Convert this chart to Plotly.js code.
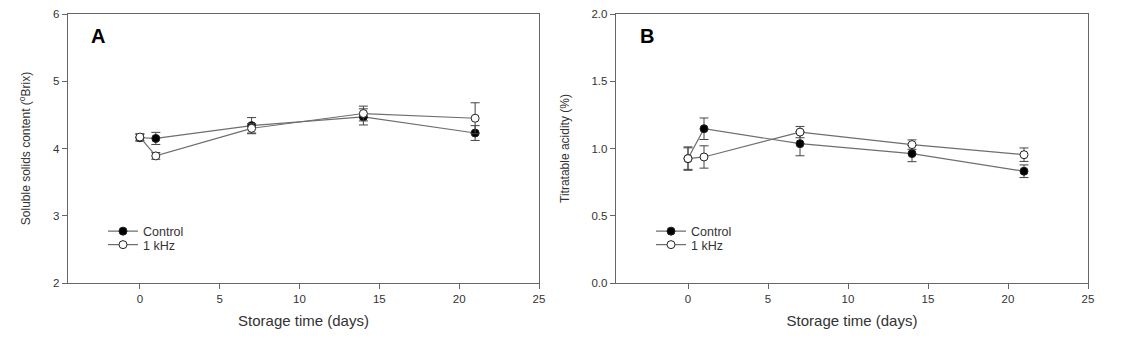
<!DOCTYPE html>
<html>
<head>
<meta charset="utf-8">
<script src="https://cdn.plot.ly/plotly-3.0.1.min.js"></script>
<style>html,body{margin:0;padding:0;background:#fff;}#chart{width:1145px;height:345px;}</style>
</head>
<body>
<div id="chart"></div>
<script>
// Storage days
const days = [0, 1, 7, 14, 21];

// Panel A: soluble solids content (°Brix)
const sscControl = [4.16, 4.15, 4.34, 4.47, 4.23];
const sscControlErr = [0.05, 0.09, 0.12, 0.12, 0.11];
const ssc1kHz = [4.17, 3.89, 4.30, 4.52, 4.45];
const ssc1kHzErr = [0.05, 0.05, 0.07, 0.11, 0.23];

// Panel B: titratable acidity (%)
const taControl = [0.925, 1.147, 1.036, 0.962, 0.831];
const taControlErr = [0.08, 0.08, 0.09, 0.06, 0.047];
const ta1kHz = [0.925, 0.937, 1.122, 1.029, 0.954];
const ta1kHzErr = [0.087, 0.083, 0.042, 0.035, 0.05];

const seriesNames = ["Control", "1 kHz"];
const panelLabels = ["A", "B"];
const yTitles = ["Soluble solids content (<sup>o</sup>Brix)", "Titratable acidity (%)"];
const xTitle = "Storage time (days)";

const lineCol = "#6e6e6e";
const errCol = "#444";
const font = "Liberation Sans, Arial, sans-serif";

function mk(y, err, name, filled, xa, ya, legend) {
  return {
    x: days, y: y, name: name, type: "scatter", mode: "lines+markers",
    xaxis: xa, yaxis: ya, legend: legend, showlegend: true,
    line: {color: lineCol, width: 1.2},
    marker: {size: 8, color: filled ? "#000" : "#fff", line: {color: "#222", width: 1}},
    error_y: {type: "data", array: err, visible: true, color: errCol, thickness: 1, width: 4.5}
  };
}

const data = [
  mk(sscControl, sscControlErr, seriesNames[0], true, "x", "y", "legend"),
  mk(ssc1kHz, ssc1kHzErr, seriesNames[1], false, "x", "y", "legend3"),
  mk(taControl, taControlErr, seriesNames[0], true, "x2", "y2", "legend2"),
  mk(ta1kHz, ta1kHzErr, seriesNames[1], false, "x2", "y2", "legend4")
];

const axCommon = {
  showgrid: false, zeroline: false, showline: true, linecolor: "#666", linewidth: 1.3,
  mirror: true, ticks: "outside", ticklen: 5, tickcolor: "#666", tickwidth: 1,
  tickfont: {family: font, size: 11.5, color: "#333"}
};

const xCommon = Object.assign({}, axCommon, {
  range: [-4.5, 25], tickvals: [0, 5, 10, 15, 20, 25],
  title: {text: xTitle, font: {family: font, size: 15, color: "#333"}, standoff: 11}
});

function leg(x, y) {
  return {x: x, y: y, xanchor: "left", yanchor: "middle", bgcolor: "rgba(0,0,0,0)",
    font: {family: font, size: 12.5, color: "#333"}, tracegroupgap: 0, itemwidth: 30};
}

const layout = {
  width: 1145, height: 345,
  margin: {l: 0, r: 0, t: 14, b: 62},
  paper_bgcolor: "#fff", plot_bgcolor: "#fff",
  xaxis: Object.assign({}, xCommon, {domain: [68/1145, 539/1145], anchor: "y"}),
  xaxis2: Object.assign({}, xCommon, {domain: [616/1145, 1088/1145], anchor: "y2"}),
  yaxis: Object.assign({}, axCommon, {
    range: [2, 6], tickvals: [2, 3, 4, 5, 6], anchor: "x",
    title: {text: yTitles[0], font: {family: font, size: 12, color: "#333"}, standoff: 19}
  }),
  yaxis2: Object.assign({}, axCommon, {
    range: [0, 2], tickvals: [0, 0.5, 1, 1.5, 2], tickformat: ".1f", anchor: "x2",
    title: {text: yTitles[1], font: {family: font, size: 12, color: "#333"}, standoff: 19}
  }),
  legend: leg(103/1145, (283 - 231.5) / 269),
  legend3: leg(103/1145, (283 - 245) / 269),
  legend2: leg(651/1145, (283 - 231.5) / 269),
  legend4: leg(651/1145, (283 - 245) / 269),
  annotations: [
    {text: "<b>" + panelLabels[0] + "</b>", xref: "paper", yref: "paper", x: 89/1145, y: (283 - 36) / 269,
     xanchor: "left", yanchor: "middle", showarrow: false, font: {family: font, size: 20, color: "#000"}},
    {text: "<b>" + panelLabels[1] + "</b>", xref: "paper", yref: "paper", x: 638/1145, y: (283 - 36) / 269,
     xanchor: "left", yanchor: "middle", showarrow: false, font: {family: font, size: 20, color: "#000"}}
  ]
};

Plotly.newPlot("chart", data, layout, {displayModeBar: false, staticPlot: true});
</script>
</body>
</html>
